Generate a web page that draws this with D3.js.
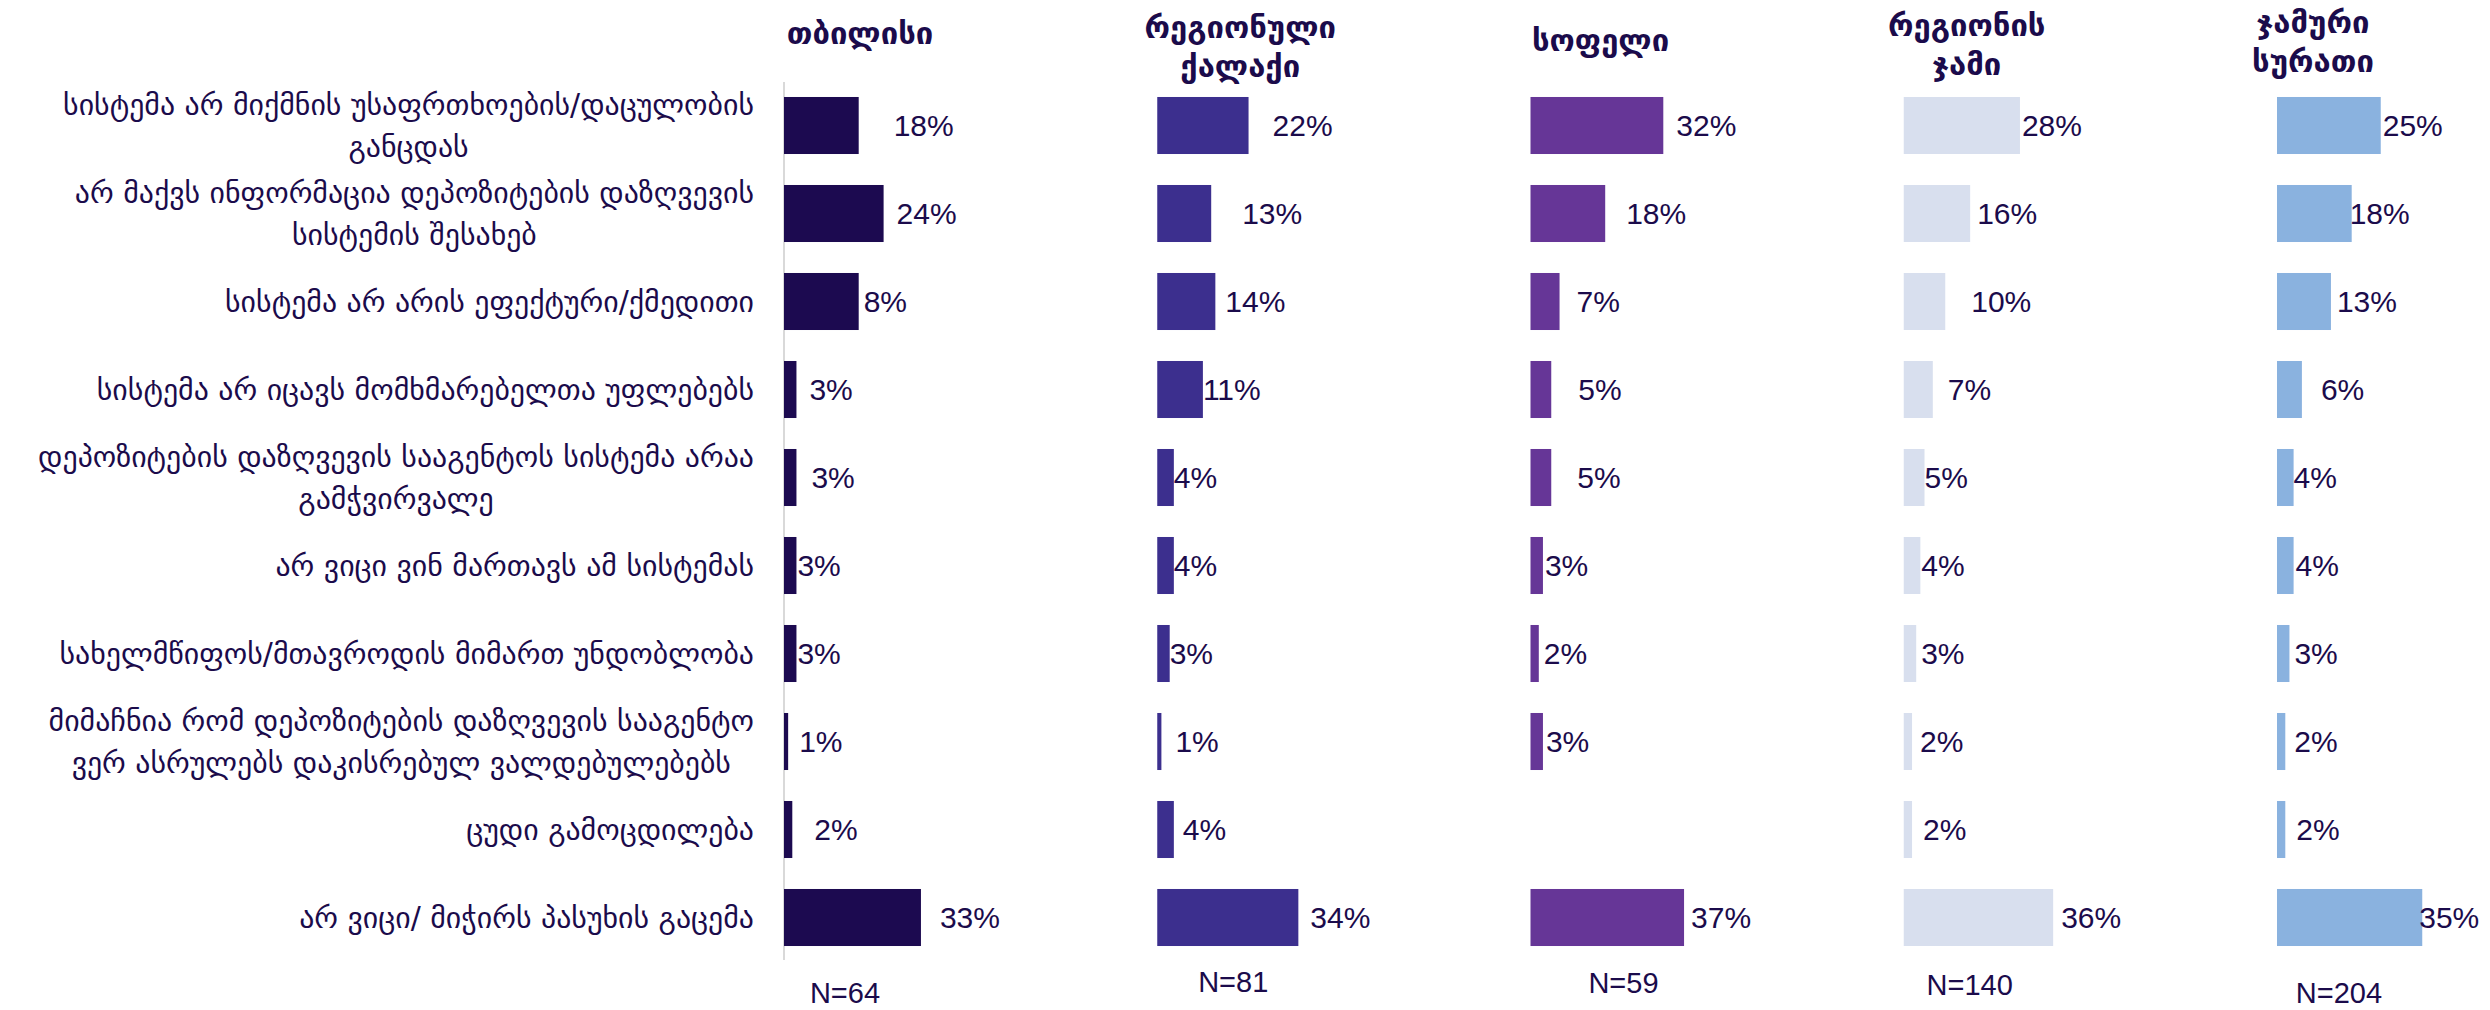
<!DOCTYPE html>
<html>
<head>
<meta charset="utf-8">
<script src="https://cdn.jsdelivr.net/npm/d3@7"></script>
<style>
  body { margin: 0; background: #fff; }
  svg { display: block; }
</style>
</head>
<body>
<svg width="2490" height="1010"></svg>
<script>
// answer categories (line breaks as in the original)
var reasons = [
  ["სისტემა არ მიქმნის უსაფრთხოების/დაცულობის", "განცდას"],
  ["არ მაქვს ინფორმაცია დეპოზიტების დაზღვევის", "სისტემის შესახებ"],
  ["სისტემა არ არის ეფექტური/ქმედითი"],
  ["სისტემა არ იცავს მომხმარებელთა უფლებებს"],
  ["დეპოზიტების დაზღვევის სააგენტოს სისტემა არაა", "გამჭვირვალე"],
  ["არ ვიცი ვინ მართავს ამ სისტემას"],
  ["სახელმწიფოს/მთავროდის მიმართ უნდობლობა"],
  ["მიმაჩნია რომ  დეპოზიტების დაზღვევის სააგენტო", "ვერ ასრულებს დაკისრებულ ვალდებულებებს"],
  ["ცუდი გამოცდილება"],
  ["არ ვიცი/ მიჭირს პასუხის გაცემა"]
];

var panels = ["tbilisi", "regionalCity", "village", "regionTotal", "overall"];
var titles = [["თბილისი"], ["რეგიონული", "ქალაქი"], ["სოფელი"], ["რეგიონის", "ჯამი"], ["ჯამური", "სურათი"]];
var sampleSizes = ["N=64", "N=81", "N=59", "N=140", "N=204"];

// percentages, one list per group (null = no bar)
var tbilisi      = [18, 24, 18, 3, 3, 3, 3, 1, 2, 33];
var regionalCity = [22, 13, 14, 11, 4, 4, 3, 1, 4, 34];
var village      = [32, 18, 7, 5, 5, 3, 2, 3, null, 37];
var regionTotal  = [28, 16, 10, 7, 5, 4, 3, 2, 2, 36];
var overall      = [25, 18, 13, 6, 4, 4, 3, 2, 2, 35];
var series = [tbilisi, regionalCity, village, regionTotal, overall];

// the printed label differs from the bar on this one
var printedLabels = [{2: "8%"}, {}, {}, {}, {}];

// layout: label nudges copied from the hand-placed labels
var labelDx = [
  [35, 13, 5, 13, 15, 1, 1, 11, 22, 19],
  [24, 31, 10, 0, 0, 0, 0, 14, 9, 12],
  [13, 21, 17, 27, 26, 2, 5, 3, 0, 7],
  [2, 7, 26, 15, 0, 1, 5, 8, 11, 8],
  [2, -2, 6, 19, 0, 2, 5, 9, 11, -3]
];
var titleDx = [76, 83, 70, 63, 36];
var titleTop = [33, 27, 40, 25, 22];
var nDx = [61, 76, 93, 66, 62];
var nY = [993, 982, 983, 985, 993];

var colors = ["#1c0a50", "#3c2f8e", "#663697", "#d8dfee", "#8ab2df"];
var ink = "#1b0b4b";
var geo = "'DejaVu Sans', sans-serif";
var num = "'Liberation Sans', Arial, sans-serif";

var svg = d3.select("svg");

var y = d3.scaleBand()
    .domain(d3.range(reasons.length))
    .range([81.5, 961.5])
    .paddingInner(0.352)
    .paddingOuter(0.176);

var x = d3.scaleLinear().domain([0, 40]).range([0, 166]);

var px = d3.scaleBand().domain(panels).range([784, 784 + 5 * 373.25]);

function cy(i) { return y(i) + y.bandwidth() / 2; }

// category labels, right edge at 754, multi-line blocks centred
var labelG = svg.append("g")
    .attr("font-family", geo)
    .attr("fill", ink)
    .attr("font-size", 20);

var groups = labelG.selectAll("g")
    .data(reasons)
    .enter().append("g");

groups.selectAll("text")
    .data(function(d, i) {
      return d.map(function(t, j) { return {t: t, y: cy(i) + (j - (d.length - 1) / 2) * 42}; });
    })
    .enter().append("text")
      .attr("y", function(d) { return d.y; })
      .attr("dy", "0.35em")
      .attr("text-anchor", "middle")
      .text(function(d) { return d.t; });

// fit the font so the widest line spans like in the original
var widest = d3.max(labelG.selectAll("text").nodes(), function(n) { return n.getComputedTextLength(); });
labelG.attr("font-size", 20 * 716 / widest);

groups.each(function() {
  var texts = d3.select(this).selectAll("text");
  var w = d3.max(texts.nodes(), function(n) { return n.getComputedTextLength(); });
  texts.attr("x", 754 - w / 2);
});

// thin axis line on the first panel
svg.append("line")
    .attr("x1", px("tbilisi")).attr("x2", px("tbilisi"))
    .attr("y1", 82).attr("y2", 960)
    .attr("stroke", "#d9d9d9")
    .attr("stroke-width", 2);

// one column of bars per group
panels.forEach(function(p, k) {
  var x0 = px(p);
  var g = svg.append("g").attr("transform", "translate(" + x0 + ",0)");
  var rows = series[k].map(function(v, i) { return {v: v, i: i}; })
      .filter(function(d) { return d.v !== null; });

  g.selectAll("rect")
    .data(rows)
    .enter().append("rect")
      .attr("x", 0)
      .attr("y", function(d) { return y(d.i); })
      .attr("width", function(d) { return x(d.v); })
      .attr("height", y.bandwidth())
      .attr("fill", colors[k]);

  g.selectAll("text.val")
    .data(rows)
    .enter().append("text")
      .attr("class", "val")
      .attr("x", function(d) { return x(d.v) + labelDx[k][d.i]; })
      .attr("y", function(d) { return cy(d.i); })
      .attr("dy", "0.36em")
      .attr("font-family", num)
      .attr("font-size", 30)
      .attr("fill", ink)
      .text(function(d) { return printedLabels[k][d.i] || d.v + "%"; });

  // group title
  g.append("g")
      .attr("font-family", geo)
      .attr("font-weight", "bold")
      .attr("font-size", 31)
      .attr("fill", ink)
      .attr("text-anchor", "middle")
    .selectAll("text")
    .data(titles[k])
    .enter().append("text")
      .attr("x", titleDx[k])
      .attr("y", function(d, j) { return titleTop[k] + j * 39; })
      .attr("dy", "0.35em")
      .text(function(d) { return d; });

  // sample size
  g.append("text")
      .attr("x", nDx[k])
      .attr("y", nY[k])
      .attr("dy", "0.35em")
      .attr("text-anchor", "middle")
      .attr("font-family", num)
      .attr("font-size", 29)
      .attr("fill", ink)
      .text(sampleSizes[k]);
});
</script>
</body>
</html>
